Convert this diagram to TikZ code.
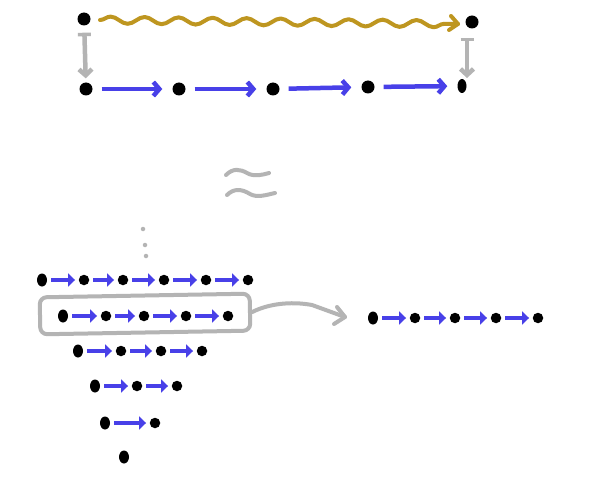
\documentclass[tikz,border=0pt]{standalone}
\usetikzlibrary{arrows.meta,decorations.pathmorphing,calc,shapes.geometric}
\definecolor{myblue}{RGB}{72,64,232}
\definecolor{mygold}{RGB}{190,150,32}
\definecolor{mygray}{RGB}{180,180,180}
\newcommand\dotrow[3]{%
  \foreach \x [count=\i, remember=\i as \j (initially 0)] in {#3} {%
    \ifnum\i=1
      \node[firstdot] (#1\i) at (\x,#2) {};
    \else
      \node[dot] (#1\i) at (\x,#2) {};
      \draw[smallarrow] (#1\j) -- (#1\i);
    \fi}}
\begin{document}
\begin{tikzpicture}[x=1pt,y=-1pt,
  dot/.style={circle,fill=black,inner sep=0pt,minimum size=10.5pt},
  bigdot/.style={circle,fill=black,inner sep=0pt,minimum size=13pt},
  firstdot/.style={ellipse,fill=black,inner sep=0pt,minimum width=10pt,minimum height=13pt},
  bluearrow/.style={myblue,line width=4.5pt,-{Straight Barb[length=6pt,width=14pt]},shorten <=9pt,shorten >=10pt},
  smallarrow/.style={myblue,line width=4.5pt,-{Triangle[length=7pt,width=13pt]},shorten <=4pt,shorten >=3.5pt},
  grayarrow/.style={mygray,line width=4.5pt,{Bar[width=13pt,line width=3.5pt]}-{Straight Barb[length=6pt,width=13pt]}},
  grayline/.style={mygray,line width=4pt,line cap=round,line join=round},
]
\fill[white] (0,0) rectangle (600,500);
\useasboundingbox (0,0) rectangle (600,500);

% top part
\node[bigdot] (t1) at (84,19) {};
\node[bigdot] (t2) at (472,22) {};
\node[bigdot] (b1) at (86,89) {};
\node[bigdot] (b2) at (179,89) {};
\node[bigdot] (b3) at (273,89) {};
\node[bigdot] (b4) at (368,87) {};
\node[ellipse,fill=black,inner sep=0pt,minimum width=9pt,minimum height=14pt] (b5) at (462,86) {};

\draw[bluearrow] (b1) -- (b2);
\draw[bluearrow] (b2) -- (b3);
\draw[bluearrow] (b3) -- (b4);
\draw[bluearrow] (b4) -- (b5);

\coordinate (g1) at (100,20);
\coordinate (g2) at (458,24);
\draw[mygold,line width=4pt,line join=round,line cap=round,decorate,
  decoration={snake,amplitude=3.5pt,segment length=34pt,post length=12pt}]
  (g1) -- (g2);
\draw[mygold,line width=4pt,line cap=round,line join=round]
  ($(g2)+(-7,-8)$) -- (g2) -- ($(g2)+(-9,6)$);

\draw[grayarrow,shorten <=7pt,shorten >=4pt] (t1) -- (b1);
\coordinate (r1) at (467,38);
\coordinate (r2) at (467,78);
\draw[grayarrow] (r1) -- (r2);

% approx sign
\draw[grayline] (226,175) .. controls (233,168) and (240,169) .. (247,173)
  .. controls (254,177) and (262,175) .. (269,173);
\draw[grayline] (227,195) .. controls (234,188) and (242,189) .. (250,194)
  .. controls (257,198) and (266,195) .. (275,193);

% vertical dots
\node[circle,fill=mygray,inner sep=0pt,minimum size=4.5pt] (v1) at (143,229) {};
\node[circle,fill=mygray,inner sep=0pt,minimum size=4.5pt] (v2) at (145,245) {};
\node[circle,fill=mygray,inner sep=0pt,minimum size=4.5pt] (v3) at (146,256) {};

% triangle of rows
\dotrow{ra}{280}{42,84,123,164,206,248}
\dotrow{rb}{316}{63,106,144,186,228}
\dotrow{rc}{351}{78,121,161,202}
\dotrow{rd}{386}{95,137,177}
\dotrow{re}{423}{105,155}
\dotrow{rf}{457}{124}

% box and connector
\node[draw=mygray,line width=4pt,rounded corners=7pt,minimum width=210pt,
  minimum height=37pt,inner sep=0pt,rotate=1] (box) at (145,314) {};
\coordinate (ct) at (345,317);
\draw[grayline] (box.east) .. controls (268,304) and (290,301) .. (312,305) -- (ct);
\draw[grayline] ($(ct)+(-8,-10)$) -- (ct) -- ($(ct)+(-11,7)$);

% right row
\dotrow{rr}{318}{373,415,455,496,538}
\end{tikzpicture}
\end{document}
